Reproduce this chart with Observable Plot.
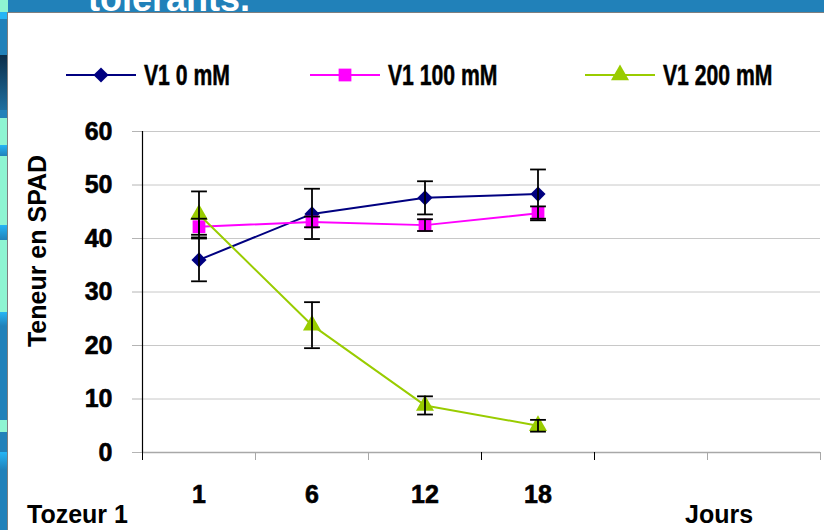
<!DOCTYPE html>
<html>
<head>
<meta charset="utf-8">
<script src="https://cdn.jsdelivr.net/npm/d3@7"></script>
<script src="https://cdn.jsdelivr.net/npm/@observablehq/plot@0.6"></script>
<style>
  html, body { margin: 0; padding: 0; background: #ffffff; }
  #page { position: relative; width: 824px; height: 530px; overflow: hidden; background: #ffffff; }
  #banner { position: absolute; left: 0; top: 0; width: 824px; height: 12px; background: #2181B9; overflow: hidden; }
  #banner span { position: absolute; left: 88px; top: -19px; font: bold 36px/36px "Liberation Sans", Arial, sans-serif; color: #ffffff; white-space: nowrap; }
  #strip { position: absolute; left: 0; top: 0; width: 8px; height: 530px;
    background: linear-gradient(to bottom,
      #8EF5D2 0px, #8EF5D2 12px, #25B5F5 12px, #25B5F5 19px, #2181B9 19px, #2181B9 55px,
      #0b2e4a 55px, #1f6f9f 110px, #2181B9 110px, #2181B9 118px,
      #8EF5D2 118px, #8EF5D2 145px, #25B5F5 145px, #2181B9 156px, #8EF5D2 156px, #8EF5D2 225px,
      #25B5F5 225px, #2181B9 240px, #8EF5D2 240px, #8EF5D2 312px, #25B5F5 312px, #2181B9 326px,
      #2181B9 420px, #8EF5D2 420px, #8EF5D2 432px, #2181B9 432px, #2181B9 452px, #25B5F5 452px, #2181B9 470px, #2181B9 530px); }
  #chart { position: absolute; left: 8px; top: 12px; width: 816px; height: 518px; background: #ffffff; }
  #bordT { position: absolute; left: 8px; top: 12px; width: 816px; height: 1px; background: #7f7f7f; }
  #bordL { position: absolute; left: 7px; top: 12px; width: 1px; height: 518px; background: #7f7f7f; }
  #legend { position: relative; width: 816px; height: 100px; }
  .item { position: absolute; top: 50px; height: 26px; display: flex; align-items: center; }
  .item span { display: inline-block; transform: scaleX(0.73); transform-origin: left center;
    font-family: "Liberation Sans", Arial, sans-serif; font-weight: bold; font-size: 29px; line-height: 26px; color: #000;
    -webkit-text-stroke: 0.5px #000; margin-left: 8px; white-space: nowrap; }
  #ylab { position: absolute; left: 37px; top: 251px; transform: translate(-50%, -50%) rotate(-90deg); font: bold 25px "Liberation Sans", Arial, sans-serif; color: #000; white-space: nowrap; }
  #cap { position: absolute; left: 27px; top: 504px; font: bold 25px/20px "Liberation Sans", Arial, sans-serif; color: #000; white-space: nowrap; }
  #xlab { position: absolute; left: 685px; top: 504px; font: bold 25px/20px "Liberation Sans", Arial, sans-serif; color: #000; white-space: nowrap; }
</style>
</head>
<body>
<div id="page">
  <div id="banner"><span>tolérants.</span></div>
  <div id="strip"></div>
  <div id="chart">
    <div id="legend"></div>
    <div id="plot"></div>
  </div>
  <div id="bordT"></div>
  <div id="bordL"></div>
  <div id="ylab">Teneur en SPAD</div>
  <div id="cap">Tozeur 1</div>
  <div id="xlab">Jours</div>
</div>
<script>
// ---- data ----
const categories = ["1", "6", "12", "18", "", ""];
const seriesNames = ["V1 0 mM", "V1 100 mM", "V1 200 mM"];
const v0 = [36.0, 44.6, 47.6, 48.3];
const e0 = [4.0, 4.7, 3.1, 4.6];
const v100 = [42.2, 43.1, 42.5, 44.7];
const e100 = [1.5, 1.0, 1.1, 1.3];
const v200 = [44.5, 23.8, 8.8, 5.0];
const e200 = [4.3, 4.3, 1.7, 1.1];
const yTicks = [0, 10, 20, 30, 40, 50, 60];
const colors = ["#000080", "#FF00FF", "#99CC00"];
const symbols = ["diamond2", "square", "triangle"];
const symbolR = [6.8, 7.2, 6.7];

const values = [v0, v100, v200];
const errors = [e0, e100, e200];
const rows = [];
values.forEach((vals, s) => vals.forEach((v, i) => rows.push({
  s, series: seriesNames[s], cat: categories[i], pos: i + 0.5, y: v, err: errors[s][i]
})));

const labelFont = '"Liberation Sans", Arial, sans-serif';
const capHalf = 0.07;
const catIdx = d3.range(categories.length + 1);

const marks = [
  Plot.gridY(yTicks, {stroke: "#c8c8c8", strokeOpacity: 1}),
  Plot.axisY(yTicks, {tickSize: 10, tickPadding: 20, stroke: "#b4b4b4", fill: "#000", fontSize: 25,
    fontWeight: "bold", fontFamily: labelFont, textStroke: "#000", textStrokeWidth: 0.6, label: null}),
  Plot.ruleY([0], {stroke: "#a8a8a8", strokeWidth: 1.5}),
  Plot.axisX(catIdx.filter(i => ![0, 3, 4].includes(i)), {tickSize: 8, stroke: "#a8a8a8", tickFormat: () => "", label: null}),
  Plot.axisX([0, 3, 4], {tickSize: 8, stroke: "#000", tickFormat: () => "", label: null}),
  Plot.axisX(categories.map((c, i) => i + 0.5), {tickSize: 0, tickPadding: 33, fontSize: 25, fontWeight: "bold",
    fontFamily: labelFont, fill: "#000", textStroke: "#000", textStrokeWidth: 0.6,
    tickFormat: (d) => categories[Math.floor(d)], label: null}),
  Plot.ruleX([0], {y1: 0, y2: 60, stroke: "#000", strokeWidth: 1.2})
];

seriesNames.forEach((name, s) => {
  const data = rows.filter(d => d.s === s);
  marks.push(Plot.line(data, {x: "pos", y: "y", stroke: colors[s], strokeWidth: 2}));
  marks.push(Plot.dot(data, {x: "pos", y: "y", symbol: symbols[s], r: symbolR[s], fill: colors[s], stroke: "none"}));
});
marks.push(
  Plot.ruleX(rows, {x: "pos", y1: d => d.y - d.err, y2: d => d.y + d.err, stroke: "#000", strokeWidth: 1.8}),
  Plot.link(rows, {x1: d => d.pos - capHalf, x2: d => d.pos + capHalf, y1: d => d.y + d.err, y2: d => d.y + d.err, stroke: "#000", strokeWidth: 1.8}),
  Plot.link(rows, {x1: d => d.pos - capHalf, x2: d => d.pos + capHalf, y1: d => d.y - d.err, y2: d => d.y - d.err, stroke: "#000", strokeWidth: 1.8})
);

const chart = Plot.plot({
  width: 816, height: 418,
  marginLeft: 134, marginRight: 4, marginTop: 19, marginBottom: 78,
  x: {type: "linear", domain: [0, categories.length]},
  y: {domain: [0, 60]},
  style: {background: "transparent", overflow: "visible"},
  marks
});
document.getElementById("plot").appendChild(chart);

// ---- legend ----
const legendX = [58, 302, 577];
const legend = d3.select("#legend");
seriesNames.forEach((name, s) => {
  const item = legend.append("div").attr("class", "item").style("left", legendX[s] + "px");
  const svg = item.append("svg").attr("width", 70).attr("height", 26);
  svg.append("line").attr("x1", 0).attr("x2", 70).attr("y1", 13).attr("y2", 13)
    .attr("stroke", colors[s]).attr("stroke-width", 2);
  const sym = {diamond2: d3.symbolDiamond2, square: d3.symbolSquare, triangle: d3.symbolTriangle}[symbols[s]];
  svg.append("path").attr("transform", "translate(35,13)")
    .attr("d", d3.symbol(sym, symbolR[s] * symbolR[s] * Math.PI)()).attr("fill", colors[s]);
  item.append("span").text(name);
});
</script>
</body>
</html>
